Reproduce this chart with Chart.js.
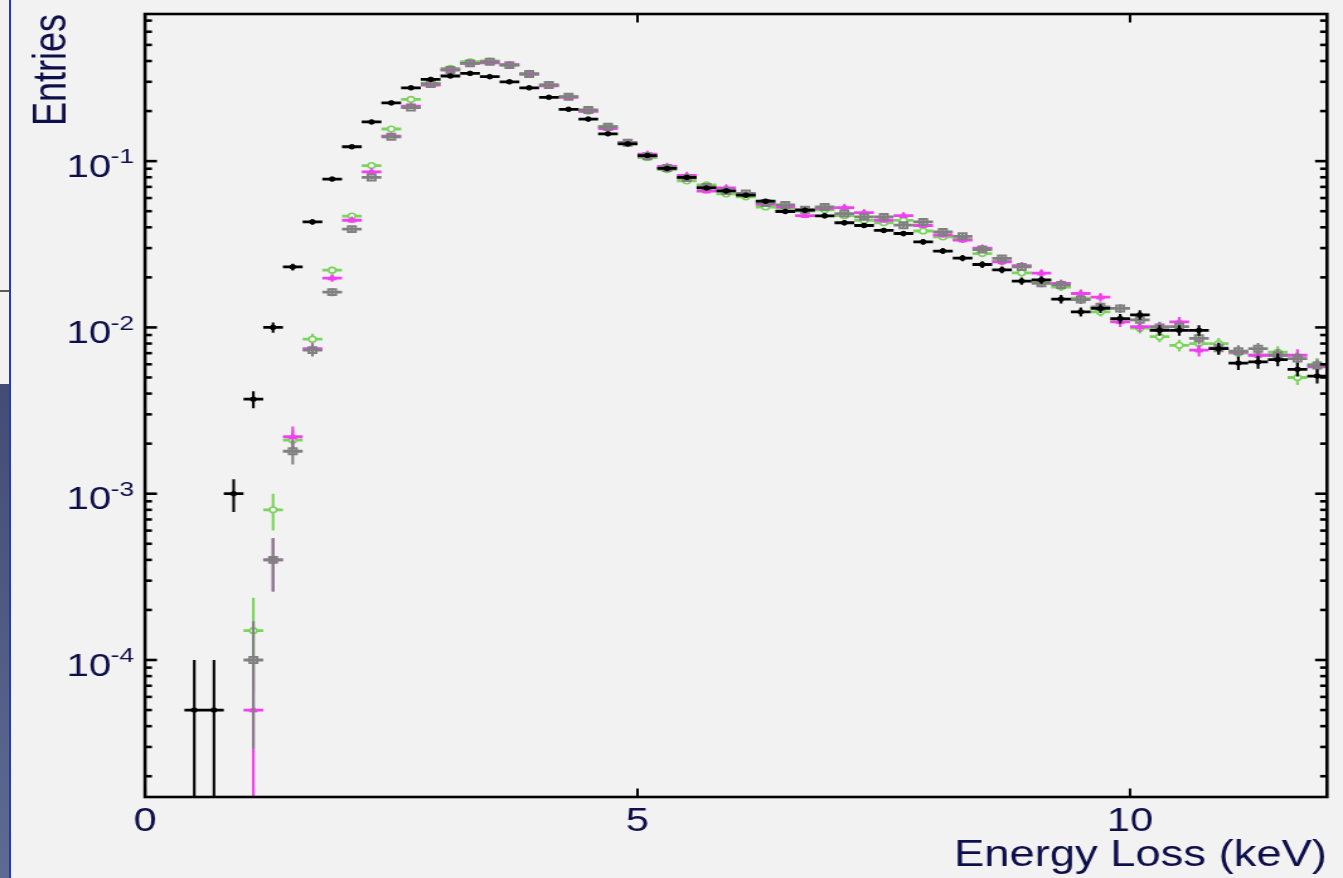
<!DOCTYPE html>
<html>
<head>
<meta charset="utf-8">
<script src="https://cdn.jsdelivr.net/npm/chart.js@4.4.1/dist/chart.umd.min.js"></script>
<style>
html,body{margin:0;padding:0;background:#f2f2f2;width:1343px;height:878px;overflow:hidden}
#wrap{position:absolute;left:0;top:0;width:1066px;height:878px;transform:scaleX(1.25985);transform-origin:0 0}
.deco{position:absolute;z-index:2}
</style>
</head>
<body>
<div id="wrap"><canvas id="c"></canvas></div>
<div class="deco" style="left:9px;top:0;width:2px;height:878px;background:#2236c8"></div>
<div class="deco" style="left:0;top:290px;width:9px;height:2px;background:#5a5a5a"></div>
<div class="deco" style="left:0;top:384px;width:9px;height:494px;background:linear-gradient(#434c74,#5d6b92)"></div>
<script>
// ---- data ----
const energyBins = [0.1,0.3,0.5,0.7,0.9,1.1,1.3,1.5,1.7,1.9,2.1,2.3,2.5,2.7,2.9,3.1,3.3,3.5,3.7,3.9,
  4.1,4.3,4.5,4.7,4.9,5.1,5.3,5.5,5.7,5.9,6.1,6.3,6.5,6.7,6.9,7.1,7.3,7.5,7.7,7.9,
  8.1,8.3,8.5,8.7,8.9,9.1,9.3,9.5,9.7,9.9,10.1,10.3,10.5,10.7,10.9,11.1,11.3,11.5,11.7,11.9];
const binWidth = 0.2;
const totalEntries = 20000; // normalisation used for the Poisson error bars

const seriesBlack = [null,null,5e-5,5e-5,1.0e-3,3.7e-3,1.0e-2,0.0231,0.0431,0.078,
  0.122,0.172,0.224,0.276,0.31,0.325,0.337,0.322,0.30,0.276,
  0.242,0.205,0.179,0.146,0.127,0.108,0.0904,0.0798,0.069,0.0662,
  0.0624,0.0574,0.0498,0.0507,0.0469,0.0426,0.041,0.0383,0.0367,0.0327,
  0.0288,0.0261,0.0239,0.0222,0.0190,0.0193,0.0148,0.0124,0.0130,0.0113,
  0.0119,0.0096,0.0096,0.0096,0.00745,0.0061,0.0062,0.0064,0.0056,0.0051];

const seriesGreen = [null,null,null,null,null,1.5e-4,8.0e-4,2.1e-3,8.5e-3,0.0221,
  0.0467,0.094,0.156,0.235,0.294,0.361,0.396,0.40,0.378,0.337,
  0.287,0.244,0.20,0.161,0.128,0.105,0.089,0.076,0.072,0.0635,
  0.061,0.053,0.051,0.050,0.051,0.047,0.044,0.0426,0.044,0.038,
  0.035,0.034,0.0278,0.025,0.0213,0.019,0.0175,0.015,0.0124,0.011,
  0.0099,0.0088,0.0078,0.0080,0.0080,0.0070,0.0068,0.0071,0.0050,0.0060];

const seriesMagenta = [null,null,null,null,null,5e-5,4.0e-4,2.2e-3,7.45e-3,0.0198,
  0.0441,0.0862,0.1415,0.214,0.287,0.355,0.387,0.39,0.38,0.334,
  0.284,0.242,0.199,0.157,0.129,0.110,0.093,0.082,0.066,0.069,
  0.063,0.055,0.053,0.047,0.052,0.0526,0.049,0.0441,0.047,0.041,
  0.036,0.0335,0.030,0.0248,0.0235,0.0212,0.0184,0.016,0.0152,0.0108,
  0.0101,0.0101,0.0108,0.0073,0.0075,0.0071,0.0068,0.0068,0.0068,0.0058];

const seriesGray = [null,null,null,null,null,1.0e-4,4.0e-4,1.8e-3,7.3e-3,0.0163,
  0.039,0.0798,0.14,0.21,0.291,0.353,0.387,0.396,0.378,0.334,
  0.287,0.244,0.203,0.161,0.129,0.107,0.091,0.079,0.070,0.066,
  0.064,0.056,0.0545,0.051,0.053,0.0484,0.0462,0.0462,0.0412,0.0431,
  0.0375,0.0353,0.0294,0.026,0.0231,0.0184,0.018,0.0147,0.0133,0.013,
  0.0111,0.0100,0.0101,0.0086,0.0075,0.0072,0.00745,0.0068,0.0065,0.0059];

const xTickValues = [0,1,2,3,4,5,6,7,8,9,10,11,12];
const xLabelValues = [0,5,10];
const xTickLabels = ['0','5','10'];
const yDecades = [1e-4,1e-3,1e-2,1e-1];
const yTickMantissa = ['10','10','10','10'];
const yTickExponent = ['-4','-3','-2','-1'];
const xTitle = 'Energy Loss (keV)';
const yTitle = 'Entries';

// ---- styling ----
const NAVY = '#0e0f4a';
const FONT = "'Liberation Sans', Arial, Helvetica, sans-serif";

const yTickValues = [];
for (let e = -5; e <= -1; e++) {
  for (let k = 1; k <= 9; k++) {
    const v = +(k + 'e' + e);
    if (v >= 1.5e-5 && v <= 0.767) yTickValues.push(v);
  }
}
const isDecade = v => Math.abs(Math.log10(v) - Math.round(Math.log10(v))) < 1e-9;

const toPoints = arr => energyBins.map((x, i) => ({x: x, y: arr[i]})).filter(p => p.y !== null);

const errorBars = {
  id: 'errorBars',
  beforeDatasetDraw(chart, args) {
    const ds = chart.data.datasets[args.index];
    const xs = chart.scales.x, ys = chart.scales.y, a = chart.chartArea, ctx = chart.ctx;
    ctx.save();
    ctx.beginPath();
    ctx.rect(a.left, a.top, a.right - a.left, a.bottom - a.top);
    ctx.clip();
    ctx.strokeStyle = ds.borderColor;
    ctx.lineCap = 'butt';
    ds.data.forEach(p => {
      const cx = xs.getPixelForValue(p.x), cy = ys.getPixelForValue(p.y);
      const l = xs.getPixelForValue(p.x - binWidth / 2), r = xs.getPixelForValue(p.x + binWidth / 2);
      const err = Math.sqrt(p.y * totalEntries) / totalEntries;
      const t = ys.getPixelForValue(p.y + err);
      const b = (p.y - err) > 0 ? ys.getPixelForValue(p.y - err) : a.bottom + 5;
      ctx.lineWidth = 2.8;
      ctx.beginPath(); ctx.moveTo(l, cy); ctx.lineTo(r, cy); ctx.stroke();
      ctx.lineWidth = 2.1;
      ctx.beginPath(); ctx.moveTo(cx, t); ctx.lineTo(cx, b); ctx.stroke();
    });
    ctx.restore();
  }
};

const frame = {
  id: 'frame',
  afterDatasetsDraw(chart) {
    const {ctx, chartArea: a, scales: {x, y}} = chart;
    ctx.save();
    ctx.strokeStyle = '#000';
    const line = (x1, y1, x2, y2) => { ctx.beginPath(); ctx.moveTo(x1, y1); ctx.lineTo(x2, y2); ctx.stroke(); };
    ctx.lineWidth = 2;
    x.ticks.forEach(t => {
      const px = x.getPixelForValue(t.value);
      const len = (t.value % 5 === 0) ? 8.5 : 3.5;
      line(px, a.bottom, px, a.bottom - len);
      line(px, a.top, px, a.top + len);
    });
    ctx.lineWidth = 2.6;
    y.ticks.forEach(t => {
      const py = y.getPixelForValue(t.value);
      const len = isDecade(t.value) ? 9.5 : 5.5;
      line(a.left, py, a.left + len, py);
      line(a.right, py, a.right - len, py);
    });
    ctx.lineWidth = 2.6;
    ctx.strokeRect(a.left, a.top, a.right - a.left, a.bottom - a.top);
    ctx.restore();
  }
};

// decade labels of the log axis, "10" with a raised exponent, placed by the y scale
const yLabels = {
  id: 'yLabels',
  afterDraw(chart) {
    const {ctx, chartArea: a, scales: {y}} = chart;
    ctx.save();
    ctx.fillStyle = NAVY;
    ctx.textBaseline = 'alphabetic';
    yDecades.forEach((d, i) => {
      const py = y.getPixelForValue(d);
      ctx.font = '32px ' + FONT;
      ctx.textAlign = 'right';
      ctx.fillText(yTickMantissa[i], a.left - 26.8, py + 15.7);
      ctx.font = '21px ' + FONT;
      ctx.textAlign = 'left';
      ctx.fillText(yTickExponent[i], a.left - 27.3, py + 2.3);
    });
    ctx.restore();
  }
};

new Chart(document.getElementById('c'), {
  type: 'scatter',
  data: {
    datasets: [
      {label: 'black', data: toPoints(seriesBlack), borderColor: '#000000', backgroundColor: '#000000',
       pointStyle: 'circle', pointRadius: 2.3, pointBorderWidth: 1},
      {label: 'gray', data: toPoints(seriesGray), borderColor: '#808080', backgroundColor: 'rgba(0,0,0,0)',
       pointStyle: 'rect', pointRadius: 4.2, pointBorderWidth: 2},
      {label: 'magenta', data: toPoints(seriesMagenta), borderColor: '#f040f0', backgroundColor: '#f040f0',
       pointStyle: 'triangle', pointRadius: 3.6, pointBorderWidth: 1},
      {label: 'green', data: toPoints(seriesGreen), borderColor: '#7ad35c', backgroundColor: '#f6f6f6',
       pointStyle: 'circle', pointRadius: 2.8, pointBorderWidth: 1.6}
    ]
  },
  options: {
    responsive: true,
    maintainAspectRatio: false,
    animation: false,
    devicePixelRatio: 1,
    layout: {padding: {top: 14, right: 12.7, left: 0, bottom: 0}},
    plugins: {legend: {display: false}, tooltip: {enabled: false}},
    elements: {point: {hoverRadius: 0}},
    scales: {
      x: {
        type: 'linear', min: 0, max: 12, position: 'bottom',
        grid: {display: false, drawTicks: false}, border: {display: false},
        afterBuildTicks: s => { s.ticks = xTickValues.map(v => ({value: v})); },
        ticks: {
          autoSkip: false, maxRotation: 0, minRotation: 0, padding: 5, color: NAVY,
          font: {family: FONT, size: 33},
          callback: v => { const i = xLabelValues.indexOf(v); return i >= 0 ? xTickLabels[i] : null; }
        },
        title: {display: true, text: xTitle, align: 'end', color: NAVY,
          font: {family: FONT, size: 36}, padding: {top: 0, bottom: 0}},
        afterFit: s => { s.height = 81; s.paddingLeft = 0; s.paddingRight = 0; s.paddingTop = 0; s.paddingBottom = 0; }
      },
      y: {
        type: 'logarithmic', min: 1.5e-5, max: 0.767, position: 'left',
        grid: {display: false, drawTicks: false}, border: {display: false},
        afterBuildTicks: s => { s.ticks = yTickValues.map(v => ({value: v})); },
        ticks: {display: false},
        title: {display: true, text: yTitle, align: 'end', color: NAVY,
          font: {family: FONT, size: 36}, padding: {top: 20, bottom: 0}},
        afterFit: s => { s.width = 115.1; s.paddingLeft = 0; s.paddingRight = 0; s.paddingTop = 0; s.paddingBottom = 0; }
      }
    }
  },
  plugins: [errorBars, frame, yLabels]
});
</script>
</body>
</html>
